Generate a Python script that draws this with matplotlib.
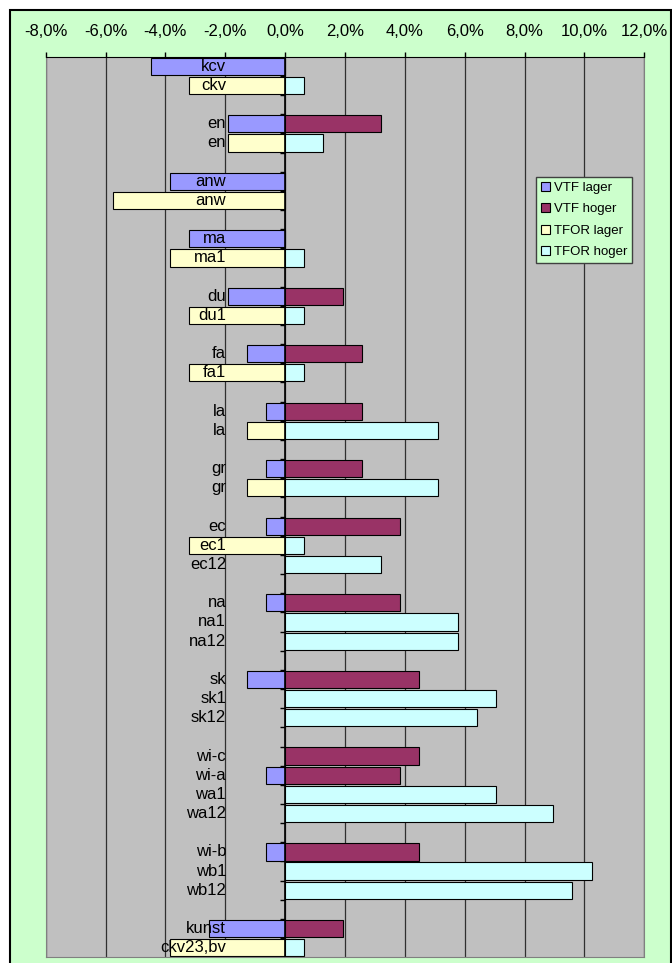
import numpy as np
import matplotlib.pyplot as plt
import matplotlib.transforms as mtransforms
from matplotlib.patches import Rectangle
from matplotlib.ticker import FuncFormatter

plt.rcParams['font.family'] = ['Liberation Sans', 'DejaVu Sans']

# rows top -> bottom, "" = empty spacer row
labels = ["kcv", "ckv", "", "en", "en", "", "anw", "anw", "", "ma", "ma1", "",
          "du", "du1", "", "fa", "fa1", "", "la", "la", "", "gr", "gr", "",
          "ec", "ec1", "ec12", "", "na", "na1", "na12", "", "sk", "sk1", "sk12", "",
          "wi-c", "wi-a", "wa1", "wa12", "", "wi-b", "wb1", "wb12", "",
          "kunst", "ckv23,bv"]

vtf_lager = [-4.48, 0, 0, -1.92, 0, 0, -3.84, 0, 0, -3.2, 0, 0,
             -1.92, 0, 0, -1.28, 0, 0, -0.64, 0, 0, -0.64, 0, 0,
             -0.64, 0, 0, 0, -0.64, 0, 0, 0, -1.28, 0, 0, 0,
             0, -0.64, 0, 0, 0, -0.64, 0, 0, 0,
             -2.56, 0]
vtf_hoger = [0, 0, 0, 3.2, 0, 0, 0, 0, 0, 0, 0, 0,
             1.92, 0, 0, 2.56, 0, 0, 2.56, 0, 0, 2.56, 0, 0,
             3.84, 0, 0, 0, 3.84, 0, 0, 0, 4.48, 0, 0, 0,
             4.48, 3.84, 0, 0, 0, 4.48, 0, 0, 0,
             1.92, 0]
tfor_lager = [0, -3.2, 0, 0, -1.92, 0, 0, -5.76, 0, 0, -3.84, 0,
              0, -3.2, 0, 0, -3.2, 0, 0, -1.28, 0, 0, -1.28, 0,
              0, -3.2, 0, 0, 0, 0, 0, 0, 0, 0, 0, 0,
              0, 0, 0, 0, 0, 0, 0, 0, 0,
              0, -3.84]
tfor_hoger = [0, 0.64, 0, 0, 1.28, 0, 0, 0, 0, 0, 0.64, 0,
              0, 0.64, 0, 0, 0.64, 0, 0, 5.12, 0, 0, 5.12, 0,
              0, 0.64, 3.2, 0, 0, 5.76, 5.76, 0, 0, 7.04, 6.4, 0,
              0, 0, 7.04, 8.96, 0, 0, 10.24, 9.6, 0,
              0, 0.64]

series = [("VTF lager", vtf_lager, "#9999FF"),
          ("VTF hoger", vtf_hoger, "#993366"),
          ("TFOR lager", tfor_lager, "#FFFFCC"),
          ("TFOR hoger", tfor_hoger, "#CCFFFF")]

W, H = 672, 963
fig = plt.figure(figsize=(W / 100, H / 100), dpi=100)
fig.patch.set_facecolor("white")
# green chart area with black border
fig.patches.append(Rectangle((10 / W, -0.02), (671 - 10) / W, 1 - 10 / H + 0.02,
                             transform=fig.transFigure, facecolor="#CCFFCC",
                             edgecolor="black", linewidth=1.5, zorder=-10))

left, right, top, bottom = 45.7, 644.3, 56.7, 957.3
ax = fig.add_axes([left / W, 1 - bottom / H, (right - left) / W, (bottom - top) / H])
ax.set_facecolor("#C0C0C0")

y = np.arange(len(labels))
for name, vals, col in series:
    v = np.array(vals, dtype=float)
    m = v != 0
    ax.barh(y[m], v[m], height=0.9, color=col, edgecolor="black",
            linewidth=0.8, label=name, zorder=2)

ax.set_xlim(-8, 12)
ax.set_ylim(len(labels) - 0.5, -0.5)
ax.set_xticks(np.arange(-8, 13, 2))
ax.xaxis.set_major_formatter(FuncFormatter(lambda v, p: f"{v:.1f}%".replace(".", ",")))
ax.xaxis.tick_top()
ax.tick_params(axis="x", direction="out", length=3.6, width=1, pad=9,
               labelsize=12, colors="black")
ax.set_yticks([])
ax.grid(axis="x", color="#303030", linewidth=0.9)
ax.set_axisbelow(True)
for s in ["left", "right", "bottom"]:
    ax.spines[s].set_color("#808080")
ax.spines["top"].set_color("black")

# vertical category axis at 0 with ticks at row boundaries
ax.axvline(0, color="black", linewidth=1.2, zorder=3)
ax.hlines(np.arange(-0.5, len(labels)), -0.17, 0, color="black", linewidth=1, zorder=1.5)

off = mtransforms.offset_copy(ax.transData, fig=fig, x=-59, y=0, units="dots")
for i, lab in enumerate(labels):
    if lab:
        ax.text(0, i, lab, transform=off, ha="right", va="center",
                fontsize=12, color="black", zorder=5)

ax.legend(loc="upper left", bbox_to_anchor=(536 / W, 1 - 177 / H),
          bbox_transform=fig.transFigure, borderaxespad=0, fancybox=False,
          framealpha=1, facecolor="#CCFFCC", edgecolor="#404040", fontsize=9.5,
          handlelength=0.7, handleheight=0.7, handletextpad=0.3,
          labelspacing=0.7, borderpad=0.35)

fig.savefig("out.png", dpi=100)
